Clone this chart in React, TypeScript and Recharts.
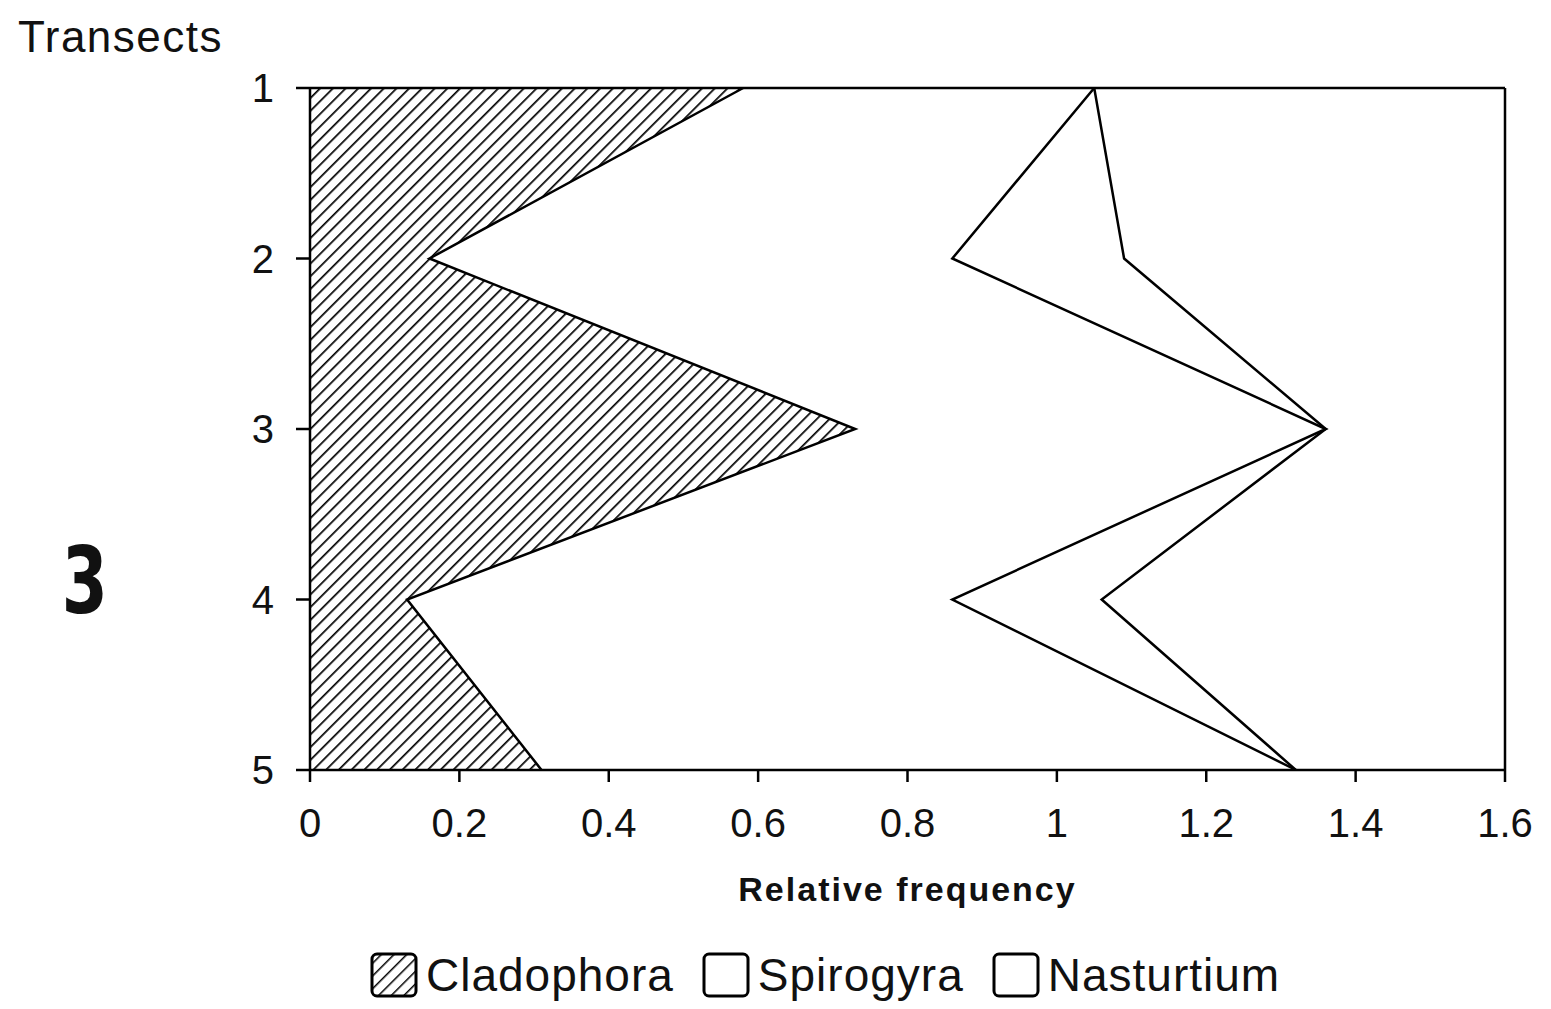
import { AreaChart, Area, XAxis, YAxis, ReferenceLine } from 'recharts';

const transects = ['1', '2', '3', '4', '5'];
const cladophora = [0.58, 0.16, 0.73, 0.13, 0.31];
const spirogyra = [0.47, 0.7, 0.63, 0.73, 1.01];
const nasturtium = [0, 0.23, 0, 0.2, 0];
const xTicks = [0, 0.2, 0.4, 0.6, 0.8, 1, 1.2, 1.4, 1.6];

const data = transects.map((t, i) => ({
  transect: t,
  Cladophora: cladophora[i],
  Spirogyra: spirogyra[i],
  Nasturtium: nasturtium[i],
}));

const font = '"Liberation Sans", Arial, sans-serif';

const LegendBox = ({ hatched }: { hatched?: boolean }) => (
  <svg width={48} height={46} style={{ marginRight: 8 }}>
    <rect x={2} y={2} width={44} height={42} rx={5} fill={hatched ? 'url(#hatchLegend)' : '#fff'} stroke="#000" strokeWidth={3} />
  </svg>
);

const App = () => {
  return (
    <div style={{ position: 'absolute', left: 0, top: 0, width: 1551, height: 1009, background: '#fff', fontFamily: font }}>
      <svg width={0} height={0} style={{ position: 'absolute' }}>
        <defs>
          <pattern id="hatchLegend" patternUnits="userSpaceOnUse" width={9} height={9} patternTransform="rotate(45)">
            <line x1={0} y1={0} x2={0} y2={9} stroke="#000" strokeWidth={3} />
          </pattern>
        </defs>
      </svg>
      <div style={{ position: 'absolute', left: 18, top: 12, fontSize: 44, letterSpacing: 1.5, color: '#111' }}>Transects</div>
      <div
        style={{
          position: 'absolute',
          left: 56,
          top: 528,
          fontSize: 92,
          fontWeight: 'bold',
          fontFamily: '"Liberation Sans Narrow", "DejaVu Sans Condensed", sans-serif',
          transform: 'scaleX(0.8)',
          color: '#111',
        }}
      >
        3
      </div>
      <AreaChart
        width={1551}
        height={1009}
        data={data}
        layout="vertical"
        margin={{ top: 88, right: 46, left: 0, bottom: 99 }}
      >
        <defs>
          <pattern id="hatch" patternUnits="userSpaceOnUse" width={9} height={9} patternTransform="rotate(45)">
            <line x1={0} y1={0} x2={0} y2={9} stroke="#000" strokeWidth={3.4} />
          </pattern>
        </defs>
        <XAxis
          type="number"
          domain={[0, 1.6]}
          ticks={xTicks}
          interval={0}
          stroke="#000"
          strokeWidth={2.5}
          tickSize={12}
          tickMargin={27}
          height={140}
          tick={{ fill: '#111', fontSize: 40, fontFamily: font }}
          label={{
            value: 'Relative frequency',
            position: 'insideBottom',
            offset: 9,
            fill: '#111',
            fontSize: 34,
            fontWeight: 'bold',
            letterSpacing: 2,
            fontFamily: font,
          }}
        />
        <YAxis
          type="category"
          dataKey="transect"
          scale="point"
          padding={{ top: 0, bottom: 0 }}
          width={310}
          stroke="#000"
          strokeWidth={2.5}
          tickSize={14}
          tickMargin={22}
          tick={{ fill: '#111', fontSize: 40, fontFamily: font }}
        />
        <Area
          type="linear"
          dataKey="Cladophora"
          stackId="a"
          stroke="#000"
          strokeWidth={2.5}
          fill="url(#hatch)"
          fillOpacity={1}
          isAnimationActive={false}
        />
        <Area
          type="linear"
          dataKey="Spirogyra"
          stackId="a"
          stroke="#000"
          strokeWidth={2.5}
          fill="#fff"
          fillOpacity={0}
          isAnimationActive={false}
        />
        <Area
          type="linear"
          dataKey="Nasturtium"
          stackId="a"
          stroke="#000"
          strokeWidth={2.5}
          fill="#fff"
          fillOpacity={0}
          isAnimationActive={false}
        />
        <ReferenceLine y="1" stroke="#000" strokeWidth={2.5} />
        <ReferenceLine x={1.6} stroke="#000" strokeWidth={2.5} />
      </AreaChart>
      <div
        style={{
          position: 'absolute',
          left: 370,
          top: 948,
          display: 'flex',
          alignItems: 'center',
          fontSize: 46,
          letterSpacing: 1,
          color: '#111',
        }}
      >
        <LegendBox hatched />
        <span style={{ marginRight: 28 }}>Cladophora</span>
        <LegendBox />
        <span style={{ marginRight: 28 }}>Spirogyra</span>
        <LegendBox />
        <span>Nasturtium</span>
      </div>
    </div>
  );
};

export default App;
